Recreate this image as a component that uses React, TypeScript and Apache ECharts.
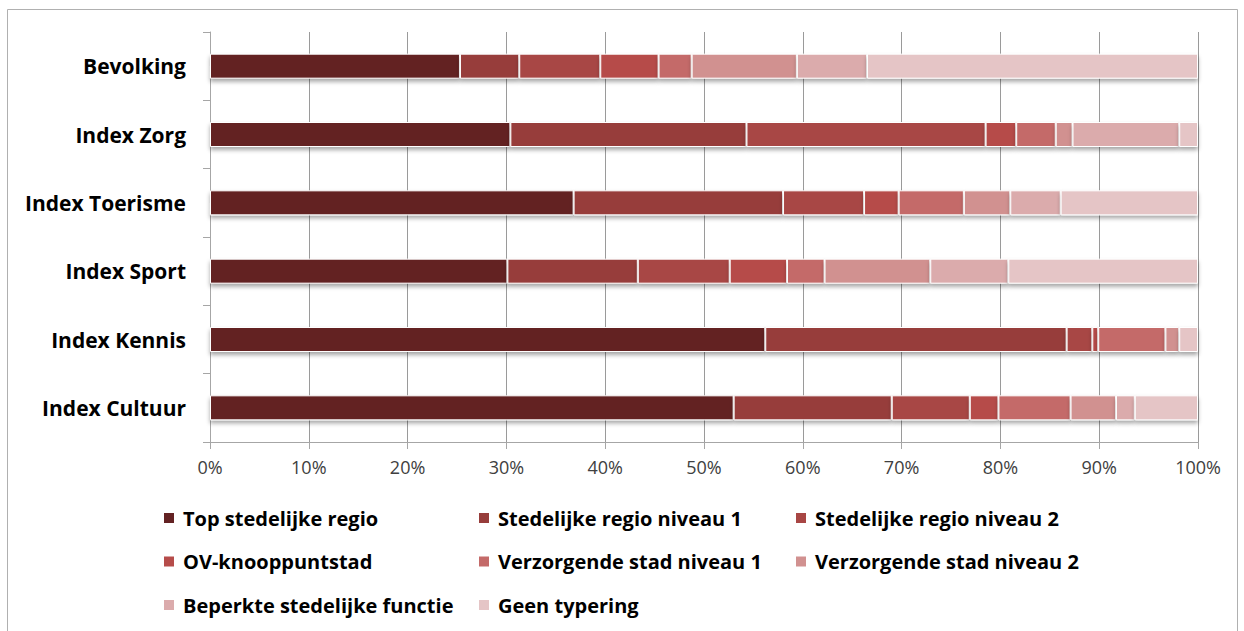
import React, { useEffect, useRef } from "react";
import * as echarts from "echarts";

const categories = ["Bevolking", "Index Zorg", "Index Toerisme", "Index Sport", "Index Kennis", "Index Cultuur"];
const seriesNames = [
  "Top stedelijke regio",
  "Stedelijke regio niveau 1",
  "Stedelijke regio niveau 2",
  "OV-knooppuntstad",
  "Verzorgende stad niveau 1",
  "Verzorgende stad niveau 2",
  "Beperkte stedelijke functie",
  "Geen typering",
];
const topStedelijk = [25.3, 30.4, 36.8, 30.1, 56.2, 53.0];
const stedelijk1 = [6.0, 23.9, 21.2, 13.2, 30.5, 16.0];
const stedelijk2 = [8.2, 24.2, 8.2, 9.3, 2.6, 7.9];
const ovKnooppunt = [5.9, 3.1, 3.5, 5.8, 0.6, 2.9];
const verzorgend1 = [3.35, 4.0, 6.6, 3.8, 6.8, 7.3];
const verzorgend2 = [10.65, 1.7, 4.7, 10.7, 1.4, 4.6];
const beperkt = [7.1, 10.8, 5.1, 7.9, 0, 1.9];
const geenTypering = [33.5, 1.9, 13.9, 19.2, 1.9, 6.4];
const seriesValues = [topStedelijk, stedelijk1, stedelijk2, ovKnooppunt, verzorgend1, verzorgend2, beperkt, geenTypering];
const colors = ["#632223", "#973D3B", "#A84644", "#B64C4A", "#C46A69", "#D19190", "#DBABAC", "#E5C5C6"];
const tickValues = [0, 10, 20, 30, 40, 50, 60, 70, 80, 90, 100];

const FONT = "'Open Sans', Lato, sans-serif";

export default function App() {
  const ref = useRef<HTMLDivElement>(null);
  useEffect(() => {
    if (!ref.current) return;
    const chart = echarts.init(ref.current, undefined, { renderer: "svg" });
    const legendText = {
      fontSize: 20,
      fontWeight: "bold" as const,
      fontFamily: FONT,
      color: "#000",
      lineHeight: 20,
      padding: [0, 0, 0, 3],
    };
    const legendCols = [
      { left: 162, names: [seriesNames[0], seriesNames[3], seriesNames[6]] },
      { left: 477, names: [seriesNames[1], seriesNames[4], seriesNames[7]] },
      { left: 794, names: [seriesNames[2], seriesNames[5]] },
    ];
    chart.setOption({
      animation: false,
      backgroundColor: "#fff",
      graphic: [
        {
          type: "rect",
          shape: { x: 7.5, y: 9.5, width: 1230, height: 640 },
          style: { fill: "none", stroke: "#b0b0b0", lineWidth: 1 },
          silent: true,
          z: -1,
        },
      ],
      legend: legendCols.map((c) => ({
        orient: "vertical",
        left: c.left,
        top: 508,
        padding: 0,
        itemWidth: 12,
        itemHeight: 12,
        itemGap: 23.5,
        icon: "rect",
        selectedMode: false,
        data: c.names,
        textStyle: legendText,
      })),
      grid: { left: 210, right: 46, top: 32, bottom: 189, containLabel: false },
      xAxis: {
        type: "value",
        min: 0,
        max: 100,
        interval: 10,
        axisLine: { show: true, lineStyle: { color: "#a6a6a6", width: 1 } },
        axisTick: { show: true, length: 7, lineStyle: { color: "#a6a6a6" } },
        splitLine: { show: true, lineStyle: { color: "#9a9a9a", width: 1 } },
        axisLabel: {
          formatter: (v: number) => (tickValues.includes(v) ? v + "%" : ""),
          fontSize: 18,
          fontFamily: FONT,
          color: "#404040",
          margin: 16,
        },
      },
      yAxis: {
        type: "category",
        data: categories,
        inverse: true,
        axisLine: { show: true, lineStyle: { color: "#a6a6a6", width: 1 } },
        axisTick: { show: true, length: 7, lineStyle: { color: "#a6a6a6" } },
        axisLabel: {
          fontSize: 21,
          fontWeight: "bold",
          fontFamily: FONT,
          color: "#000",
          margin: 24,
        },
      },
      series: seriesNames.map((name, i) => ({
        name,
        type: "bar",
        stack: "total",
        barWidth: 25,
        data: seriesValues[i],
        itemStyle: {
          color: colors[i],
          borderColor: "#fff",
          borderWidth: 1,
          shadowColor: "rgba(0,0,0,0.35)",
          shadowBlur: 4,
          shadowOffsetY: 3,
        },
      })),
    });
    return () => chart.dispose();
  }, []);
  return <div ref={ref} style={{ position: "fixed", left: 0, top: 0, width: 1244, height: 631 }} />;
}
